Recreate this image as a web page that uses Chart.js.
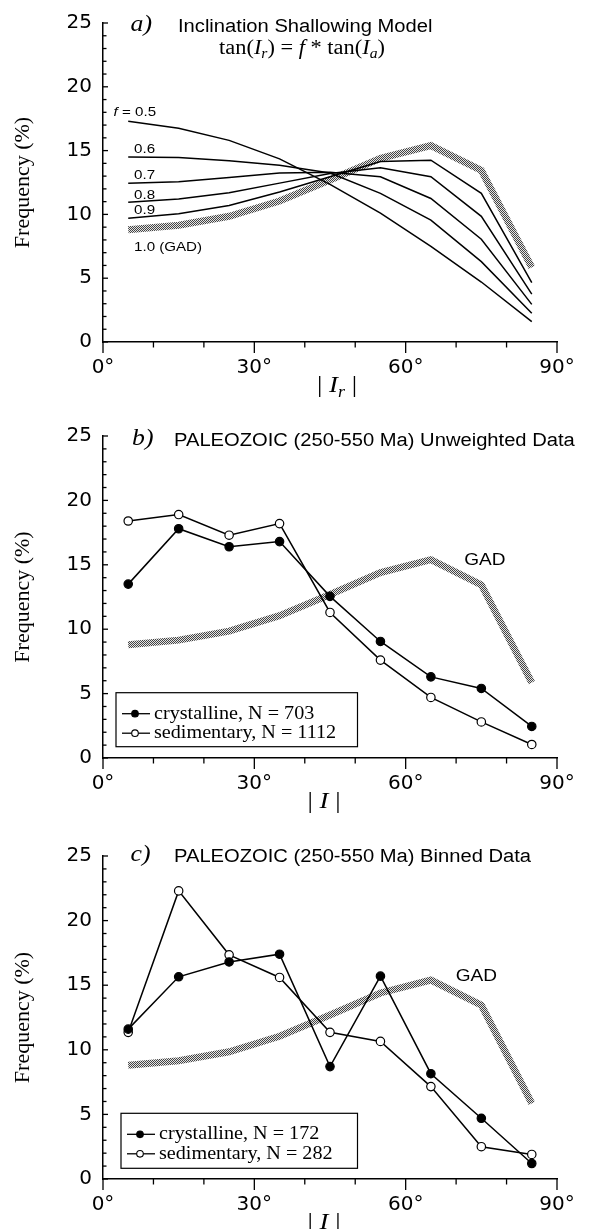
<!DOCTYPE html>
<html>
<head>
<meta charset="utf-8">
<script src="https://cdn.jsdelivr.net/npm/chart.js@4.4.1/dist/chart.umd.min.js"></script>
<style>
  body { margin: 0; background: #fff; width: 591px; height: 1229px; overflow: hidden; position: relative; }
  canvas { position: absolute; left: 0; display: block; }
</style>
</head>
<body>
<canvas id="chartA" width="591" height="400" style="top:0"></canvas>
<canvas id="chartB" width="591" height="420" style="top:400px"></canvas>
<canvas id="chartC" width="591" height="409" style="top:820px"></canvas>
<script>
// bin centres of |I| (degrees) and tick labels
const binCenters = [5, 15, 25, 35, 45, 55, 65, 75, 85];
const xTickLabels = ['0°', '30°', '60°', '90°'];
const yTickLabels = ['0', '5', '10', '15', '20', '25'];

// a) inclination shallowing model, frequency (%)
const shallowF = ['0.5', '0.6', '0.7', '0.8', '0.9'];
const gadFreq = [8.8, 9.15, 9.85, 11.05, 12.7, 14.4, 15.4, 13.45, 5.85];
const freqF05 = [17.3, 16.75, 15.8, 14.35, 12.35, 10.1, 7.5, 4.7, 1.6];
const freqF06 = [14.5, 14.45, 14.2, 13.85, 13.25, 11.65, 9.55, 6.3, 2.25];
const freqF07 = [12.45, 12.55, 12.9, 13.25, 13.3, 12.95, 11.25, 8.05, 2.95];
const freqF08 = [10.95, 11.2, 11.7, 12.45, 13.2, 13.65, 12.95, 9.85, 3.75];
const freqF09 = [9.7, 10.05, 10.7, 11.75, 12.95, 14.15, 14.25, 11.65, 4.65];

// b) paleozoic unweighted data
const crystallineUnweighted = [13.5, 17.8, 16.4, 16.8, 12.55, 9.05, 6.3, 5.4, 2.45];
const sedimentaryUnweighted = [18.4, 18.9, 17.3, 18.2, 11.3, 7.6, 4.7, 2.8, 1.05];
const legendB = ['crystalline, N = 703', 'sedimentary, N = 1112'];

// c) paleozoic binned data
const crystallineBinned = [11.6, 15.65, 16.8, 17.4, 8.7, 15.7, 8.15, 4.7, 1.2];
const sedimentaryBinned = [11.35, 22.3, 17.35, 15.6, 11.35, 10.65, 7.15, 2.5, 1.9];
const legendC = ['crystalline, N = 172', 'sedimentary, N = 282'];

const SERIF = '"Liberation Serif", "Times New Roman", serif';
const SANS = '"Liberation Sans", Arial, sans-serif';
const SX = 1.12; // the original figure is a little stretched sideways

const pts = (vals) => binCenters.map((c, i) => ({ x: c, y: vals[i] }));

function dither(ctx) {
  const c = document.createElement('canvas');
  c.width = 2; c.height = 2;
  const g = c.getContext('2d');
  g.fillStyle = '#e4e4e4'; g.fillRect(0, 0, 2, 2);
  g.fillStyle = '#444'; g.fillRect(0, 0, 1, 1); g.fillRect(1, 1, 1, 1);
  return ctx.createPattern(c, 'repeat');
}

function richText(ctx, parts, x, y, align) {
  const widths = parts.map(p => { ctx.font = p[1]; return ctx.measureText(p[0]).width; });
  const total = widths.reduce((s, w) => s + w, 0) * SX;
  const x0 = align === 'center' ? x - total / 2 : x;
  ctx.save();
  ctx.translate(x0, y);
  ctx.scale(SX, 1);
  ctx.fillStyle = '#000';
  ctx.textAlign = 'left';
  ctx.textBaseline = 'alphabetic';
  let ox = 0;
  parts.forEach((p, i) => {
    ctx.font = p[1];
    ctx.fillText(p[0], ox, p[2] || 0);
    ox += widths[i];
  });
  ctx.restore();
}

function seg(ctx, x1, y1, x2, y2) {
  ctx.beginPath(); ctx.moveTo(x1, y1); ctx.lineTo(x2, y2); ctx.stroke();
}

const decor = {
  id: 'decor',
  afterDraw(chart, args, o) {
    const { ctx, chartArea: a, scales: { x, y } } = chart;
    ctx.save();
    ctx.strokeStyle = '#000';
    ctx.lineWidth = 1.3;
    // y ticks point inwards, x ticks point down
    for (let v = 0; v <= 25; v++) {
      const py = y.getPixelForValue(v);
      seg(ctx, a.left, py, a.left + (v % 5 === 0 ? 5 : 3.5), py);
    }
    for (let v = 0; v <= 90; v += 10) {
      const px = x.getPixelForValue(v);
      seg(ctx, px, a.bottom, px, a.bottom + (v % 30 === 0 ? 11 : 5.5));
    }
    // panel letter + title
    richText(ctx, [[o.letter, `italic 23px ${SERIF}`]], a.left + o.letterX, a.top + o.titleY, 'left');
    richText(ctx, [[o.title, `18px ${SANS}`]], a.left + o.titleX, a.top + o.titleY + 1, 'left');
    if (o.formula) {
      richText(ctx, o.formula, a.left + 199, a.top + 31, 'center');
    }
    // labels placed in data units
    (o.labels || []).forEach(l => {
      richText(ctx, l.parts, x.getPixelForValue(l.x), y.getPixelForValue(l.y), l.align || 'left');
    });
    // legend box
    if (o.legend) {
      const L = o.legend;
      const bx = a.left + L.ox, by = a.bottom - L.ob - L.h;
      ctx.fillStyle = '#fff';
      ctx.fillRect(bx, by, L.w, L.h);
      ctx.lineWidth = 1.2;
      ctx.strokeRect(bx, by, L.w, L.h);
      L.items.forEach((txt, i) => {
        const base = by + 26 + i * 19.5;
        const ly = base - 5;
        ctx.lineWidth = 1.3;
        seg(ctx, bx + 6, ly, bx + 34, ly);
        ctx.beginPath();
        ctx.arc(bx + 19, ly, 3.3, 0, Math.PI * 2);
        ctx.fillStyle = i === 0 ? '#000' : '#fff';
        ctx.fill();
        ctx.lineWidth = 1.1;
        ctx.stroke();
        richText(ctx, [[txt, `18px ${SERIF}`]], bx + 38, base, 'left');
      });
    }
    // x axis title
    richText(ctx, o.xTitle, a.left + o.xTitleX, a.bottom + 50, 'center');
    ctx.restore();
  }
};

function lineSet(vals, extra) {
  return Object.assign({
    data: pts(vals),
    borderColor: '#000',
    borderWidth: 1.5,
    pointRadius: 0,
    tension: 0
  }, extra || {});
}

function makeChart(id, top, bottom, datasets, decorOpts) {
  const canvas = document.getElementById(id);
  const H = canvas.height;
  const ctx = canvas.getContext('2d');
  datasets.push(lineSet(gadFreq, { borderColor: dither(ctx), borderWidth: 7, order: 10 }));
  return new Chart(ctx, {
    type: 'line',
    data: { datasets: datasets },
    options: {
      responsive: false,
      animation: false,
      events: [],
      layout: { padding: { top: top, right: 34, bottom: 0, left: 0 } },
      plugins: { legend: { display: false }, tooltip: { enabled: false }, decor: decorOpts },
      scales: {
        x: {
          type: 'linear', min: 0, max: 90,
          grid: { display: false, drawTicks: false },
          border: { display: true, color: '#000', width: 1.5 },
          ticks: {
            stepSize: 30, autoSkip: false, maxRotation: 0, padding: 14, color: '#000',
            font: { family: '"DejaVu Sans", sans-serif', size: 20 },
            callback: (v) => xTickLabels[v / 30]
          },
          afterFit: (s) => { s.height = H - bottom; }
        },
        y: {
          min: 0, max: 25,
          grid: { display: false, drawTicks: false },
          border: { display: true, color: '#000', width: 1.5 },
          ticks: {
            stepSize: 5, padding: 11, color: '#000',
            font: { family: '"DejaVu Sans", sans-serif', size: 20 },
            callback: (v) => yTickLabels[v / 5]
          },
          title: {
            display: true, text: 'Frequency (%)', color: '#000',
            font: { family: SERIF, size: 22 }, padding: { top: 10, bottom: 0 }
          },
          afterFit: (s) => { s.width = 103; }
        }
      }
    },
    plugins: [decor]
  });
}

const f13 = `13.5px ${SANS}`;
const f17 = `17px ${SANS}`;
const barTitle = (sub) => {
  const p = [['| ', `24px ${SERIF}`], ['I', `italic 24px ${SERIF}`]];
  if (sub) p.push([sub, `italic 16px ${SERIF}`, 5]);
  p.push([' |', `24px ${SERIF}`]);
  return p;
};

makeChart('chartA', 19, 342, [
  lineSet(freqF05), lineSet(freqF06), lineSet(freqF07), lineSet(freqF08), lineSet(freqF09)
], {
  letter: 'a)', letterX: 27.5, title: 'Inclination Shallowing Model', titleX: 75, titleY: 8,
  formula: [
    ['tan(', `20px ${SERIF}`], ['I', `italic 20px ${SERIF}`], ['r', `italic 14px ${SERIF}`, 4],
    [') = ', `20px ${SERIF}`], ['f', `italic 20px ${SERIF}`], [' * tan(', `20px ${SERIF}`],
    ['I', `italic 20px ${SERIF}`], ['a', `italic 14px ${SERIF}`, 4], [')', `20px ${SERIF}`]
  ],
  labels: [
    { parts: [['f', `italic ${f13}`], [' = ' + shallowF[0], f13]], x: 2.1, y: 17.72 },
    { parts: [[shallowF[1], f13]], x: 6.15, y: 14.78 },
    { parts: [[shallowF[2], f13]], x: 6.15, y: 12.77 },
    { parts: [[shallowF[3], f13]], x: 6.15, y: 11.22 },
    { parts: [[shallowF[4], f13]], x: 6.15, y: 10.06 },
    { parts: [['1.0 (GAD)', f13]], x: 6.15, y: 7.12 }
  ],
  xTitle: barTitle('r'), xTitleX: 234
});

const dotted = (vals, fill) => lineSet(vals, {
  pointRadius: 4.2, pointBackgroundColor: fill, pointBorderColor: '#000', pointBorderWidth: 1.2
});

makeChart('chartB', 36, 358, [
  dotted(crystallineUnweighted, '#000'), dotted(sedimentaryUnweighted, '#fff')
], {
  letter: 'b)', letterX: 29, title: 'PALEOZOIC (250-550 Ma) Unweighted Data', titleX: 71, titleY: 9,
  labels: [{ parts: [['GAD', f17]], x: 75.7, y: 15.0, align: 'center' }],
  legend: { ox: 13, ob: 11.3, w: 241.5, h: 54, items: legendB },
  xTitle: barTitle(null), xTitleX: 221
});

makeChart('chartC', 36, 359, [
  dotted(crystallineBinned, '#000'), dotted(sedimentaryBinned, '#fff')
], {
  letter: 'c)', letterX: 27.5, title: 'PALEOZOIC (250-550 Ma) Binned Data', titleX: 71, titleY: 5,
  labels: [{ parts: [['GAD', f17]], x: 74, y: 15.33, align: 'center' }],
  legend: { ox: 18, ob: 10.7, w: 236.5, h: 55, items: legendC },
  xTitle: barTitle(null), xTitleX: 221
});
</script>
</body>
</html>
